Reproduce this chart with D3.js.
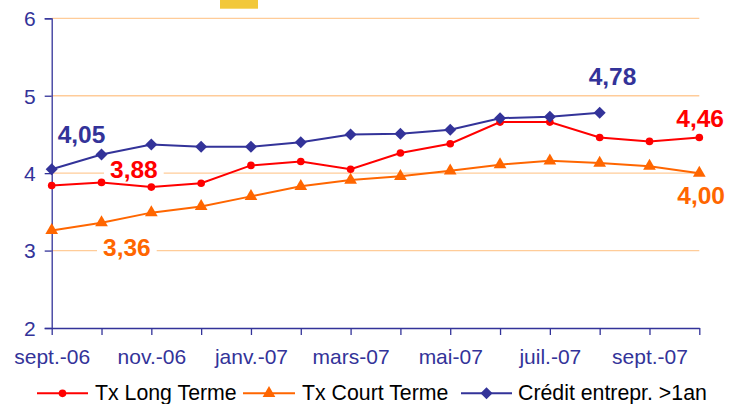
<!DOCTYPE html>
<html><head><meta charset="utf-8">
<script src="https://cdn.jsdelivr.net/npm/d3@7"></script>
<style>
html,body{margin:0;padding:0;background:#fff;}
svg{display:block;font-family:"Liberation Sans",Arial,sans-serif;}
</style></head>
<body><svg id="c" width="742" height="404"></svg>
<script>
const months = ["sept.-06","oct.-06","nov.-06","déc.-06","janv.-07","févr.-07","mars-07","avr.-07","mai-07","juin-07","juil.-07","août-07","sept.-07","oct.-07"];
const yTicks = [2,3,4,5,6];
const txLong  = [3.84,3.88,3.82,3.87,4.10,4.15,4.05,4.26,4.38,4.66,4.66,4.46,4.41,4.46];
const txCourt = [3.26,3.36,3.49,3.57,3.70,3.83,3.91,3.96,4.03,4.11,4.16,4.13,4.09,4.00];
const credit  = [4.05,4.24,4.37,4.34,4.34,4.40,4.50,4.51,4.56,4.71,4.73,4.78,null,null];
const seriesNames = ["Tx Long Terme","Tx Court Terme","Crédit entrepr. >1an"];
// value labels: [series index, point index]
const valueLabels = [[2,0],[0,1],[1,1],[2,11],[0,13],[1,13]];

const colors = ["#FF0000","#FF6600","#333399"];
const squareDiamond = { draw(ctx, size){ const r = Math.sqrt(size/2); ctx.moveTo(0,-r); ctx.lineTo(r,0); ctx.lineTo(0,r); ctx.lineTo(-r,0); ctx.closePath(); } };
const symbols = [d3.symbolCircle, d3.symbolTriangle, squareDiamond];
const symSizes = [46, 70, 72];
const labelOffsets = [[6,-26],[8.5,-4],[1.5,33],[-11,-28],[-23,-11],[-22,31]];
const axisColor = "#333399";

const svg = d3.select("#c");
const x = d3.scalePoint().domain(months).range([51.7, 699.3]);
const y = d3.scaleLinear().domain([2,6]).range([328, 18.3]);

// decorative yellow block at top
svg.append("rect").attr("x",220).attr("y",0).attr("width",38).attr("height",8.7).attr("fill","#F2C83A");

// gridlines
svg.append("g").selectAll("line").data(yTicks.filter(d=>d>2)).join("line")
  .attr("x1",x.range()[0]).attr("x2",x.range()[1])
  .attr("y1",d=>y(d)).attr("y2",d=>y(d))
  .attr("stroke","#FFCC99").attr("stroke-width",1.3);

const bgLayer = svg.append("g");

// y axis
const ya = svg.append("g").attr("transform",`translate(${x.range()[0]},0)`)
  .call(d3.axisLeft(y).tickValues(yTicks).tickSize(7).tickPadding(9).tickFormat(d3.format("d")));
ya.select(".domain").attr("stroke",axisColor).attr("stroke-width",1.3);
ya.selectAll(".tick line").attr("stroke",axisColor).attr("stroke-width",1.3);
ya.selectAll(".tick text").attr("fill",axisColor).attr("font-size",21).attr("font-family","Liberation Sans, Arial, sans-serif").attr("dy","0.35em");

// x axis
const xa = svg.append("g").attr("transform",`translate(0,${y(2)})`)
  .call(d3.axisBottom(x).tickSize(7).tickSizeOuter(0).tickPadding(14)
    .tickFormat((d,i)=> i%2===0 ? d : ""));
xa.select(".domain").attr("stroke",axisColor).attr("stroke-width",1.3);
xa.selectAll(".tick line").attr("stroke",axisColor).attr("stroke-width",1.3);
xa.selectAll(".tick text").attr("fill",axisColor).attr("font-size",21).attr("font-family","Liberation Sans, Arial, sans-serif");

const data = [txLong, txCourt, credit];
data.forEach((vals, si) => {
  const pts = vals.map((v,i)=>({m:months[i], v})).filter(p=>p.v!=null);
  const line = d3.line().x(p=>x(p.m)).y(p=>y(p.v));
  svg.append("path").datum(pts).attr("d",line).attr("fill","none")
    .attr("stroke",colors[si]).attr("stroke-width",2);
  svg.append("g").selectAll("path").data(pts).join("path")
    .attr("d", d3.symbol().type(symbols[si]).size(symSizes[si]))
    .attr("transform", p=>`translate(${x(p.m)},${y(p.v)})`)
    .attr("fill",colors[si]);
});

// value labels; white background only masks gridlines
const fmt = v => d3.format(".2f")(v).replace(".",",");
valueLabels.forEach(([si,pi],k)=>{
  const v = data[si][pi];
  const t = svg.append("text")
    .attr("x", x(months[pi]) + labelOffsets[k][0])
    .attr("y", y(v) + labelOffsets[k][1])
    .attr("font-size",24.5).attr("font-weight","bold").attr("fill",colors[si])
    .text(fmt(v));
  const bb = t.node().getBBox();
  bgLayer.append("rect").attr("x",bb.x-6).attr("y",bb.y).attr("width",bb.width+12).attr("height",bb.height).attr("fill","#fff");
});

// legend
const legend = [
  {lx1:37, lx2:88, tx:95},
  {lx1:243, lx2:295, tx:302},
  {lx1:461, lx2:512, tx:518}
];
const ly = 393.3;
seriesNames.forEach((name,si)=>{
  const L = legend[si];
  svg.append("line").attr("x1",L.lx1).attr("x2",L.lx2).attr("y1",ly).attr("y2",ly)
    .attr("stroke",colors[si]).attr("stroke-width",2);
  svg.append("path").attr("d",d3.symbol().type(symbols[si]).size(symSizes[si]))
    .attr("transform",`translate(${(L.lx1+L.lx2)/2},${ly})`).attr("fill",colors[si]);
  svg.append("text").attr("x",L.tx).attr("y",399.5).attr("font-size",21.3).attr("fill","#000").text(name);
});
</script></body></html>
